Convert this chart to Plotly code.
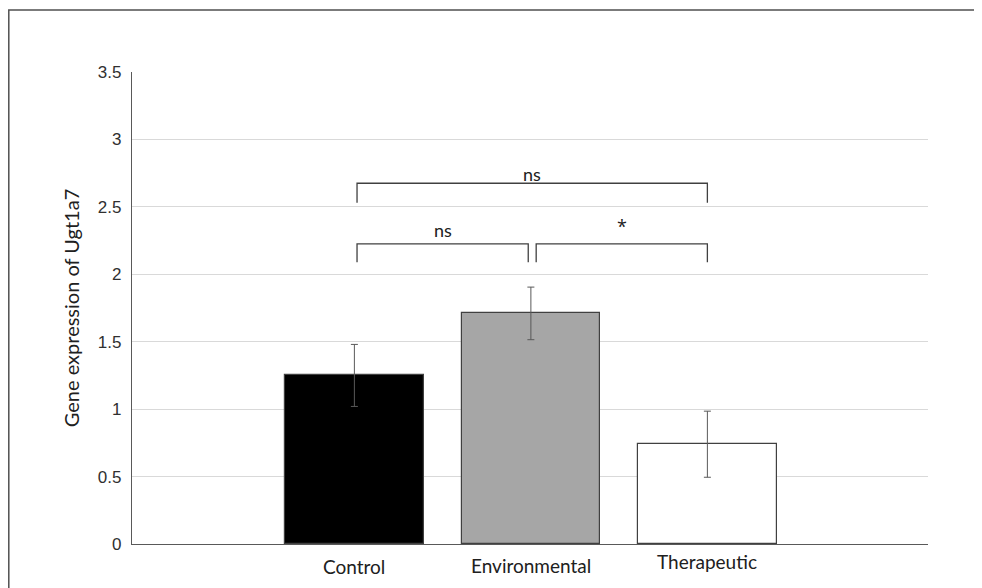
import plotly.graph_objects as go

categories = ["Control", "Environmental", "Therapeutic"]
values = [1.25, 1.71, 0.74]
errors = [0.23, 0.195, 0.245]
bar_colors = ["#000000", "#a6a6a6", "#ffffff"]
y_ticks = [0, 0.5, 1, 1.5, 2, 2.5, 3, 3.5]

# significance brackets
br_from = [0, 0, 1]
br_to = [2, 1, 2]
br_top = [2.675, 2.225, 2.225]
br_bottom = [2.53, 2.09, 2.09]
br_labels = ["ns", "ns", "*"]

# style-only offsets
br_inset = [0.0, 0.0, 0.015]
br_outset = [0.0, 0.015, 0.0]
br_label_shift = [9, 14, 18]
br_label_font = ["Lato", "Lato", "Open Sans"]
cat_label_drop = [22, 21, 17]

xpos = list(range(len(categories)))

# page has an 8px body margin; figure is sized so the plot area lands where it should
W, H = 974, 580
L, R, T, B = 124, 54, 64, 44
pw, ph = W - L - R, H - T - B

fig = go.Figure()
fig.add_trace(go.Bar(
    x=xpos, y=values, width=0.785,
    marker=dict(color=bar_colors, line=dict(color="#404040", width=1.2)),
    error_y=dict(type="data", array=errors, visible=True, color="#595959", thickness=1, width=3.5),
    showlegend=False, hoverinfo="skip",
))

for i, (f, t, top, bot, lab) in enumerate(zip(br_from, br_to, br_top, br_bottom, br_labels)):
    x0 = xpos[f] + br_inset[i] + 0.015
    x1 = xpos[t] - br_outset[i]
    fig.add_trace(go.Scatter(
        x=[x0, x0, x1, x1], y=[bot, top, top, bot], mode="lines",
        line=dict(color="#404040", width=1.3), showlegend=False, hoverinfo="skip",
    ))
    fig.add_annotation(x=(x0 + x1) / 2, y=top, text=lab, showarrow=False,
                       yanchor="middle", yshift=br_label_shift[i],
                       font=dict(family=br_label_font[i], size=18, color="#202020"))

for i, c in enumerate(categories):
    fig.add_annotation(x=xpos[i], y=0, xref="x", yref="paper", text=c, showarrow=False,
                       yanchor="middle", yshift=-cat_label_drop[i],
                       font=dict(family="Lato", size=19, color="#202020"))

fig.update_layout(
    width=W, height=H,
    margin=dict(l=L, r=R, t=T, b=B),
    paper_bgcolor="white", plot_bgcolor="white",
    bargap=0,
    xaxis=dict(
        range=[-1.26, 3.25], tickvals=xpos, ticktext=["" for _ in categories],
        showgrid=False, zeroline=False, showline=True, linecolor="#595959", linewidth=1.2,
        ticks="",
    ),
    yaxis=dict(
        range=[0, 3.5], tickvals=y_ticks, ticktext=[("%g" % v) for v in y_ticks],
        showgrid=True, gridcolor="#d9d9d9", gridwidth=1, zeroline=False,
        showline=True, linecolor="#595959", linewidth=1.2, ticks="",
        ticklabelstandoff=6,
        tickfont=dict(family="Liberation Sans", size=17, color="#303030"),
        title=dict(text="Gene expression of Ugt1a7", standoff=12,
                   font=dict(family="Lato", size=20, color="#202020")),
    ),
    shapes=[dict(type="rect", xref="paper", yref="paper",
                 x0=(-L + 0.8) / pw, x1=(W + 10 - L) / pw,
                 y0=-(B + 10) / ph, y1=1 + (T - 2) / ph,
                 line=dict(color="#505050", width=1.5), fillcolor="rgba(0,0,0,0)", layer="above")],
)

fig.write_html("out.html")
